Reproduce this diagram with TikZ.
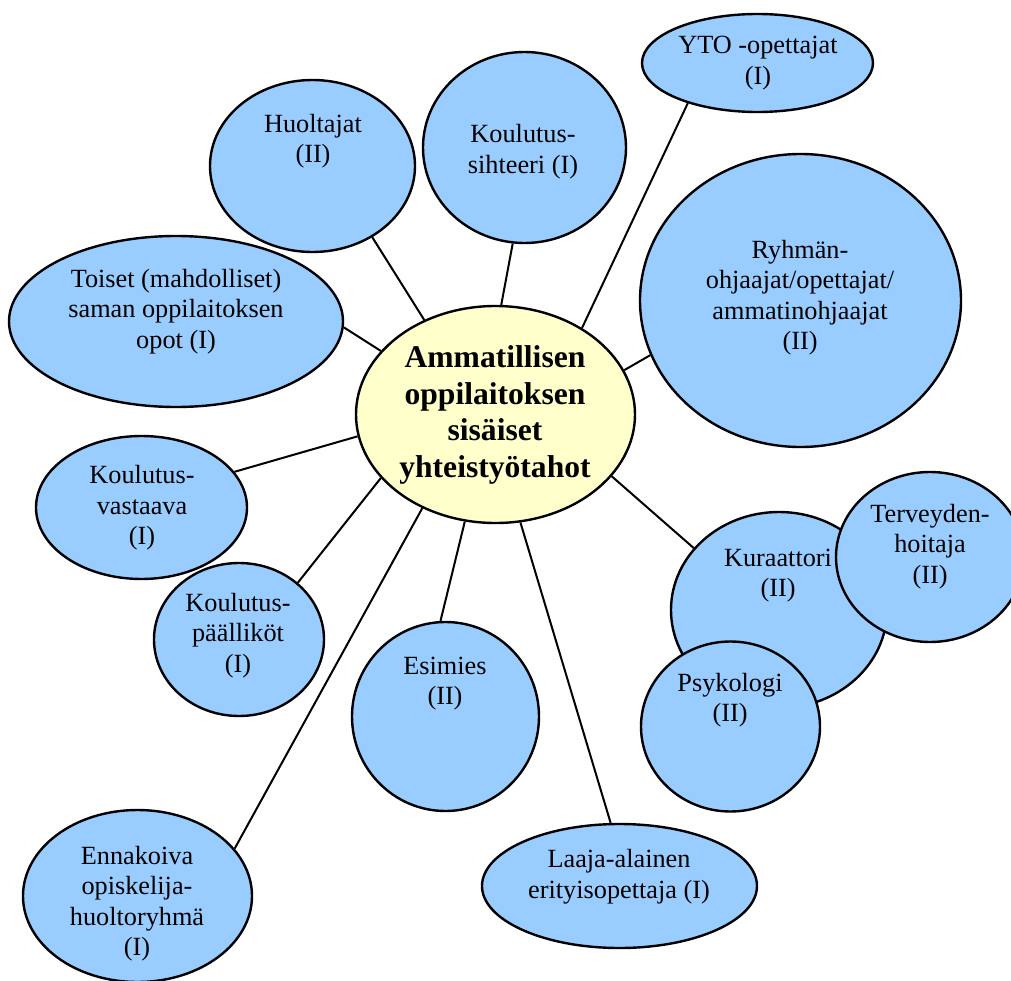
\documentclass[tikz,border=0pt]{standalone}
\usepackage{fontspec}
\setmainfont{Liberation Serif}
\usetikzlibrary{shapes.geometric}
\definecolor{satblue}{HTML}{99CCFF}
\definecolor{hubyellow}{HTML}{FFFFCC}
\begin{document}
\begin{tikzpicture}[x=0.75pt, y=-0.75pt,
  sat/.style={ellipse, draw, line width=1.8pt, fill=satblue, inner sep=0pt},
  hub/.style={ellipse, draw, line width=1.8pt, fill=hubyellow, inner sep=0pt},
  txt/.style={align=center, inner sep=0pt, font=\fontsize{19.7}{22.9}\selectfont},
  link/.style={line width=1.5pt}]
\useasboundingbox (0,0) rectangle (1011,981);
\clip (0,0) rectangle (1011,981);
\node[hub, minimum width=209.25pt, minimum height=162.75pt] (hub) at (495.5,414.5){};
\node[txt, font=\bfseries\fontsize{23.7}{27.4}\selectfont] (hubT) at (495,415){Ammatillisen\\oppilaitoksen\\sisäiset\\yhteistyötahot};
\node[sat, minimum width=153.75pt, minimum height=129pt] (huolt) at (312.5,166){};
\node[txt] (huoltT) at (313,141){Huoltajat\\(II)};
\draw[link](hub.127) -- (huolt.310);
\node[sat, minimum width=152.25pt, minimum height=143.25pt] (siht) at (524.5,147.5){};
\node[txt] (sihtT) at (523,151.5){Koulutus-\\sihteeri (I)};
\draw[link](hub.87) -- (siht.263);
\node[sat, minimum width=173.25pt, minimum height=73.5pt] (yto) at (757.5,63){};
\node[txt] (ytoT) at (758,63){YTO -opettajat\\(I)};
\draw[link](hub.45) -- (yto.210);
\node[sat, minimum width=240.75pt, minimum height=219.75pt] (ryhma) at (800.5,300.5){};
\node[txt] (ryhmaT) at (800,297.5){Ryhmän-\\ohjaajat/opettajat/\\ammatinohjaajat\\(II)};
\draw[link](hub.19) -- (ryhma.200);
\node[sat, minimum width=250.5pt, minimum height=128.25pt] (toiset) at (176,321.5){};
\node[txt] (toisetT) at (176,311.5){Toiset (mahdolliset)\\saman oppilaitoksen\\opot (I)};
\draw[link](hub.151) -- (toiset.358);
\node[sat, minimum width=158.25pt, minimum height=107.25pt] (vast) at (141.5,507.5){};
\node[txt] (vastT) at (142,508){Koulutus-\\vastaava\\(I)};
\draw[link](hub.189) -- (vast.21);
\node[sat, minimum width=127.5pt, minimum height=114.75pt] (paall) at (239,639.5){};
\node[txt] (paallT) at (238,635.5){Koulutus-\\päälliköt\\(I)};
\draw[link](hub.209) -- (paall.44);
\node[sat, minimum width=171.75pt, minimum height=129pt] (enn) at (137.5,896){};
\node[txt] (ennT) at (137,903.5){Ennakoiva\\opiskelija-\\huoltoryhmä\\(I)};
\draw[link](hub.232) -- (enn.26);
\node[sat, minimum width=140.25pt, minimum height=141.75pt] (esim) at (445.5,716.5){};
\node[txt] (esimT) at (445,683.5){Esimies\\(II)};
\draw[link](hub.254) -- (esim.93);
\node[sat, minimum width=206.25pt, minimum height=93pt] (laaja) at (619.5,886){};
\node[txt] (laajaT) at (619,876.5){Laaja-alainen\\erityisopettaja (I)};
\draw[link](hub.283) -- (laaja.98);
\node[sat, minimum width=162pt, minimum height=147pt] (kur) at (779,610){};
\node[txt] (kurT) at (778,575.5){Kuraattori\\(II)};
\draw[link](hub.332) -- (kur.144);
\node[sat, minimum width=141pt, minimum height=127.5pt] (terv) at (930,557){};
\node[txt] (tervT) at (930,546.5){Terveyden-\\hoitaja\\(II)};
\node[sat, minimum width=134.25pt, minimum height=127.5pt] (psyk) at (730.5,726.5){};
\node[txt] (psykT) at (730,700){Psykologi\\(II)};
\end{tikzpicture}
\end{document}
